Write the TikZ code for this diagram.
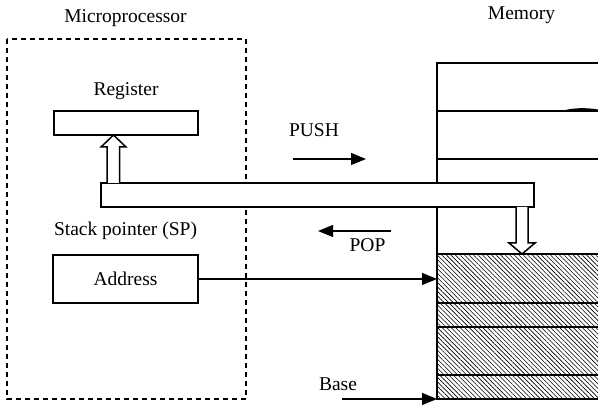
\documentclass[tikz,border=0pt]{standalone}
\usepackage{fontspec}
\setmainfont{Liberation Serif}
\usetikzlibrary{arrows.meta,patterns.meta}
\begin{document}
\begin{tikzpicture}[x=1pt,y=-1pt,
  box/.style={draw,line width=1.5pt,fill=white,inner sep=0pt,outer sep=0pt,anchor=north west},
  lbl/.style={font=\fontsize{19.5}{22}\selectfont,inner sep=0pt,anchor=base},
  hollow/.style={draw,line width=1.5pt,fill=white,line join=miter},
  ptr/.style={line width=1.2pt,-{Triangle[length=15pt,width=12pt]}},
  mem/.style={line width=1.6pt},
  hatch/.style={pattern={Lines[angle=-45,distance=3.2pt,line width=0.6pt]}},
  dashbox/.style={line width=1.4pt,dash pattern=on 5pt off 4pt}
]
\useasboundingbox (0,0) rectangle (598,406);
% labels
\node[lbl] (tmicro) at (125.5,22.5) {Microprocessor};
\node[lbl] (tmem) at (521.5,20) {Memory};
\node[lbl] (treg) at (126,96) {Register};
\node[lbl] (tsp) at (125.5,236) {Stack pointer (SP)};
\node[lbl] (tpush) at (314,136.5) {PUSH};
\node[lbl] (tpop) at (367.5,252) {POP};
\node[lbl] (tbase) at (338,390.5) {Base};
% microprocessor dashed boundary
\draw[dashbox] (7,39) rectangle (246,399);
% memory
\fill[hatch] (437,254) rectangle (598,399);
\draw[mem] (598,63) -- (437,63) -- (437,399) -- (598,399);
\foreach \yy in {111,159,254,303,327,375} \draw[mem] (437,\yy) -- (598,\yy);
\fill (560,111.5) .. controls (572,107.5) and (586,107.5) .. (598,109.5) -- (598,111.5) -- cycle;
\coordinate (memSP) at (437,279);
\coordinate (memBase) at (437,399);
\coordinate (basestart) at (342,399);
% boxes
\node[box,minimum width=144pt,minimum height=24pt] (register) at (54,111) {};
\node[box,minimum width=145pt,minimum height=48pt] (address) at (53,255) {};
\node[lbl,anchor=base] (taddr) at (125.5,285.5) {Address};
\node[box,minimum width=433pt,minimum height=24pt] (bus) at (101,183) {};
% hollow arrows
\draw[hollow] (107,183) -- (107,147) -- (101,147) -- (113.5,135) -- (126,147) -- (119.5,147) -- (119.5,183);
\draw[hollow] (516,207) -- (516,243) -- (509,243) -- (522,254) -- (535,243) -- (528,243) -- (528,207);
% pointer arrows
\draw[ptr] (address.east) -- (memSP);
\draw[ptr] (basestart) -- (memBase);
\coordinate (pushA) at (293,159);
\coordinate (pushB) at (366,159);
\coordinate (popA) at (391,231);
\coordinate (popB) at (318,231);
\draw[ptr] (pushA) -- (pushB);
\draw[ptr] (popA) -- (popB);
\end{tikzpicture}
\end{document}
